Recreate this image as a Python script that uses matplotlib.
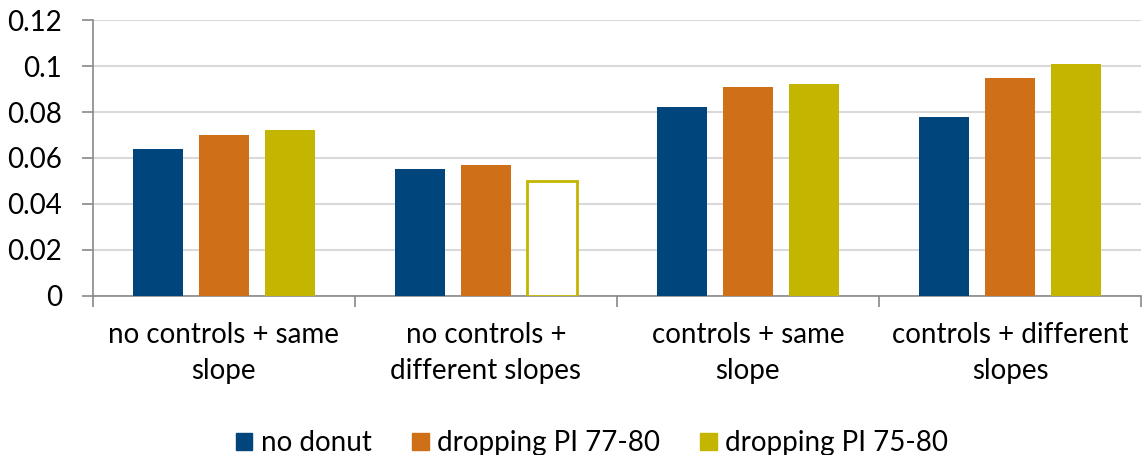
import numpy as np
import matplotlib
matplotlib.use("Agg")
import matplotlib.pyplot as plt

# data
categories = ["no controls + same\nslope", "no controls +\ndifferent slopes",
              "controls + same\nslope", "controls + different\nslopes"]
series_names = ["no donut", "dropping PI 77-80", "dropping PI 75-80"]
no_donut = [0.064, 0.055, 0.082, 0.078]
drop_77_80 = [0.070, 0.057, 0.091, 0.095]
drop_75_80 = [0.072, 0.050, 0.092, 0.101]
hollow_75_80 = [False, True, False, False]  # the outlined-only bar
y_ticks = [0, 0.02, 0.04, 0.06, 0.08, 0.1, 0.12]
y_tick_labels = ["0", "0.02", "0.04", "0.06", "0.08", "0.1", "0.12"]

colors = ["#00457c", "#cf7019", "#c4b600"]

plt.rcParams["font.family"] = ["Lato", "DejaVu Sans"]

fig = plt.figure(figsize=(11.45, 4.55), dpi=100)
ax = fig.add_axes([0.081, 0.3495, 0.9155, 0.6065])

x = np.arange(len(categories))
width = 0.19
step = 0.252
all_series = [no_donut, drop_77_80, drop_75_80]
handles = []
for i, vals in enumerate(all_series):
    pos = x + (i - 1) * step
    if i == 2:
        faces = ["white" if h else colors[i] for h in hollow_75_80]
        lws = [2 if h else 0 for h in hollow_75_80]
        ax.bar(pos, vals, width, color=faces, edgecolor=colors[i],
               linewidth=lws, zorder=3)
    else:
        ax.bar(pos, vals, width, color=colors[i], linewidth=0, zorder=3)
    handles.append(plt.Rectangle((0, 0), 1, 1, color=colors[i]))

ax.set_xlim(-0.5, len(categories) - 0.5)
ax.set_ylim(0, 0.12)
ax.set_yticks(y_ticks)
ax.set_yticklabels(y_tick_labels, fontsize=20)
ax.yaxis.grid(True, color="#d9d9d9", linewidth=1.5, zorder=0)
ax.set_axisbelow(True)

ax.set_xticks(x)
ax.set_xticklabels(categories, fontsize=20, linespacing=1.45)
ax.tick_params(axis="x", which="major", length=0, pad=19)
ax.set_xticks(np.arange(len(categories) + 1) - 0.5, minor=True)
ax.tick_params(axis="x", which="minor", length=8, color="#898989", width=1.2)
ax.tick_params(axis="y", length=8, color="#898989", width=1.2, pad=14)

for side in ["top", "right"]:
    ax.spines[side].set_visible(False)
for side in ["left", "bottom"]:
    ax.spines[side].set_color("#898989")
    ax.spines[side].set_linewidth(1.2)

fig.legend(handles, series_names, loc="lower center", ncol=3, frameon=False,
           fontsize=20, handlelength=0.6, handleheight=0.6, handletextpad=0.3,
           columnspacing=1.45, bbox_to_anchor=(0.517, -0.058))

fig.savefig("out.png", dpi=100)
